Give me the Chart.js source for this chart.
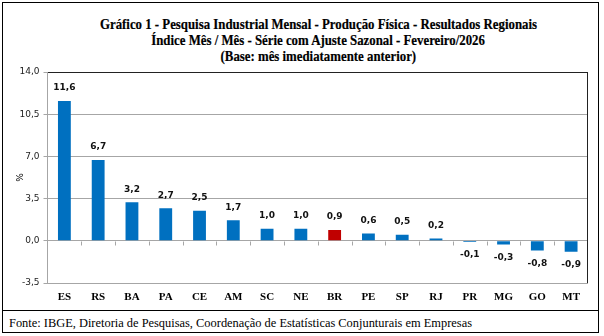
<!DOCTYPE html>
<html lang="pt-BR">
<head>
<meta charset="utf-8">
<title>Produção Física - Resultados Regionais</title>
<script src="https://cdn.jsdelivr.net/npm/chart.js@4.4.1/dist/chart.umd.min.js"></script>
<style>
  body { margin: 0; background: #fff; width: 604px; height: 336px; overflow: hidden; }
  #box { position: absolute; left: 2px; top: 2px; width: 595px; height: 329px; border: 1px solid #000; }
  #rule { position: absolute; left: 2px; top: 310px; width: 597px; border-top: 1px solid #000; }
  #titulo { position: absolute; left: 0; top: 16px; width: 636px; text-align: center;
            font: bold 15px "Liberation Serif", serif; line-height: 16px; color: #000;
            -webkit-text-stroke: 0.2px #000; }
  #titulo span { display: inline-block; white-space: nowrap; transform-origin: center; }
  #fonte { position: absolute; left: 9px; top: 314px; white-space: nowrap;
           font: 13px "Liberation Serif", serif; line-height: 17px; color: #000; transform-origin: left center; }
  #wrap { position: absolute; left: 0; top: 0; }
</style>
</head>
<body>
<div id="box"></div>
<div id="rule"></div>
<div id="titulo">
  <span>Gráfico 1 - Pesquisa Industrial Mensal - Produção Física - Resultados Regionais</span><br>
  <span>Índice Mês / Mês - Série com Ajuste Sazonal - Fevereiro/2026</span><br>
  <span>(Base: mês imediatamente anterior)</span>
</div>
<div id="fonte">Fonte: IBGE, Diretoria de Pesquisas, Coordenação de Estatísticas Conjunturais em Empresas</div>
<div id="wrap"><canvas id="grafico" width="604" height="311"></canvas></div>
<script>
// Regions, ordered by the month-on-month change
const regioes = ['ES', 'RS', 'BA', 'PA', 'CE', 'AM', 'SC', 'NE', 'BR', 'PE', 'SP', 'RJ', 'PR', 'MG', 'GO', 'MT'];
const variacao = [11.6, 6.7, 3.2, 2.7, 2.5, 1.7, 1.0, 1.0, 0.9, 0.6, 0.5, 0.2, -0.1, -0.3, -0.8, -0.9];
const eixoY = { min: -3.5, max: 14, passo: 3.5 };

const AZUL = '#0070C0';
const VERMELHO = '#C00000';
const CINZA = '#a6a6a6';

// Brazil total is highlighted in red
const cores = regioes.map(r => r === 'BR' ? VERMELHO : AZUL);

const virgula = v => v.toFixed(1).replace('.', ',');

// squeeze the serif text lines to a given width
function ajustar(el, largura) {
    const w = el.getBoundingClientRect().width;
    el.style.transform = 'scaleX(' + (largura / w) + ')';
}
const linhas = document.querySelectorAll('#titulo span');
const escala = 437 / linhas[0].getBoundingClientRect().width;
linhas.forEach(l => l.style.transform = 'scaleX(' + escala + ')');
ajustar(document.getElementById('fonte'), 463);

// tick marks on the zero line plus the dark right frame
const linhaZero = {
    id: 'linhaZero',
    beforeDatasetsDraw(chart) {
        const { ctx, chartArea, scales: { x, y } } = chart;
        const y0 = Math.round(y.getPixelForValue(0)) + 0.5;
        ctx.save();
        ctx.strokeStyle = CINZA;
        ctx.lineWidth = 1;
        ctx.beginPath();
        for (let i = 1; i < regioes.length; i++) {
            const xb = Math.round((x.getPixelForValue(i - 1) + x.getPixelForValue(i)) / 2) + 0.5;
            ctx.moveTo(xb, y0);
            ctx.lineTo(xb, y0 + 4);
        }
        ctx.stroke();
        ctx.strokeStyle = '#222';
        ctx.beginPath();
        const xr = Math.round(chartArea.right) - 0.5;
        ctx.moveTo(xr, Math.round(chartArea.top));
        ctx.lineTo(xr, Math.round(chartArea.bottom));
        ctx.stroke();
        ctx.restore();
    }
};

// value labels above positive bars and below negative ones
const rotulos = {
    id: 'rotulos',
    afterDatasetsDraw(chart) {
        const { ctx } = chart;
        const meta = chart.getDatasetMeta(0);
        ctx.save();
        ctx.font = 'bold 9px "DejaVu Sans", sans-serif';
        ctx.fillStyle = '#111';
        ctx.textAlign = 'center';
        ctx.textBaseline = 'middle';
        meta.data.forEach((barra, i) => {
            const v = variacao[i];
            const yy = v >= 0 ? barra.y - 13 : barra.y + 13;
            ctx.fillText(virgula(v), barra.x, yy);
        });
        ctx.restore();
    }
};

new Chart(document.getElementById('grafico'), {
    type: 'bar',
    data: {
        labels: regioes,
        datasets: [{
            data: variacao,
            backgroundColor: cores,
            borderWidth: 0,
            barPercentage: 0.38,
            categoryPercentage: 1
        }]
    },
    options: {
        responsive: false,
        animation: false,
        layout: { padding: { top: 72, right: 16, left: 0, bottom: 0 } },
        plugins: { legend: { display: false }, tooltip: { enabled: false } },
        scales: {
            x: {
                grid: { display: false, drawTicks: false },
                border: { display: false },
                ticks: {
                    color: '#000',
                    padding: 8,
                    font: { family: '"Liberation Serif", serif', size: 11, weight: 'bold' }
                },
                afterFit(s) { s.height = 28; }
            },
            y: {
                min: eixoY.min,
                max: eixoY.max,
                ticks: {
                    stepSize: eixoY.passo,
                    color: '#222',
                    padding: 4,
                    font: { family: '"DejaVu Sans", sans-serif', size: 9 },
                    callback: v => virgula(v)
                },
                grid: {
                    color: c => c.tick && c.tick.value === eixoY.max ? '#222' : CINZA,
                    tickColor: CINZA,
                    tickLength: 4
                },
                border: { color: CINZA },
                title: {
                    display: true,
                    text: '%',
                    color: '#000',
                    padding: { top: 15, bottom: 0 },
                    font: { family: '"DejaVu Sans", sans-serif', size: 9 }
                },
                afterFit(s) { s.width = 47.5; }
            }
        }
    },
    plugins: [linhaZero, rotulos]
});
</script>
</body>
</html>
